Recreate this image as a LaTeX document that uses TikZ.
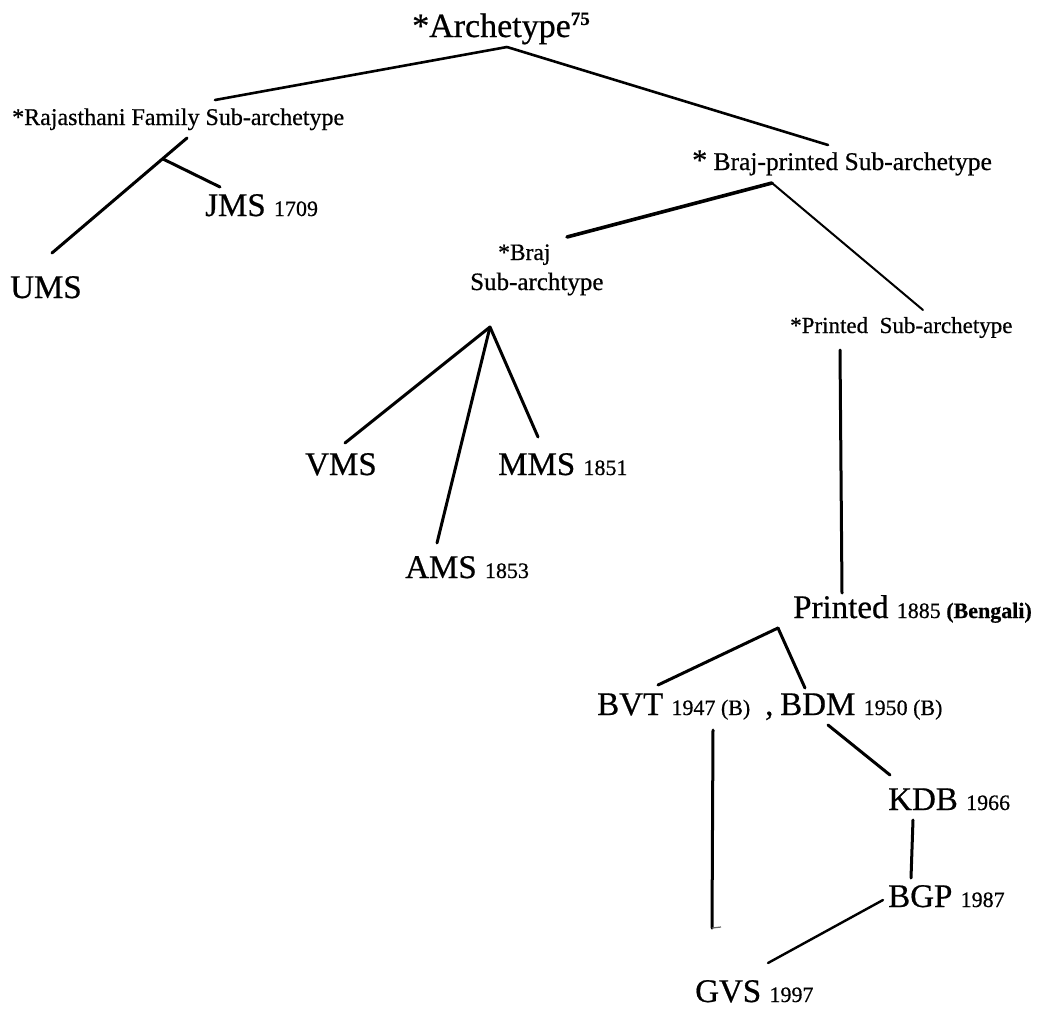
\documentclass[tikz,border=0pt]{standalone}
\usepackage{fontspec}
\setmainfont{Liberation Serif}[FakeBold=0.6]
\newcommand{\yrs}[1]{{\fontsize{22}{24}\selectfont #1}}
\tikzset{
  lbl/.style={font=\fontsize{33}{36}\selectfont, anchor=base west, inner sep=0pt},
  sml/.style={font=\fontsize{24}{26}\selectfont, anchor=base west, inner sep=0pt},
  edge/.style={line width=3pt, line cap=round},
  thinedge/.style={line width=2pt, line cap=round}
}
\begin{document}
\begin{tikzpicture}[x=1pt,y=-1pt]
\useasboundingbox (0,0) rectangle (1037,1009);
% nodes
\node[lbl,font=\fontsize{34}{36}\selectfont] (arch) at (412,37) {*Archetype\raisebox{12pt}{\fontsize{19}{19}\selectfont\bfseries 75}};
\node[sml] (raj) at (12,125) {*Rajasthani Family Sub-archetype};
\node[lbl] (jms) at (205,216) {JMS \yrs{1709}};
\node[lbl] (ums) at (10,298) {UMS};
\node[sml,font=\fontsize{25.5}{27}\selectfont] (brajp) at (692,170) {{\fontsize{30}{30}\selectfont *} Braj-printed Sub-archetype};
\node[sml,font=\fontsize{23.5}{26}\selectfont] (brajA) at (498,260) {*Braj};
\node[sml,font=\fontsize{25}{26}\selectfont] (brajB) at (470,290) {Sub-archtype};
\node[sml,font=\fontsize{23}{26}\selectfont] (prsub) at (790,333) {*Printed\ \ Sub-archetype};
\node[lbl] (vms) at (305,475) {VMS};
\node[lbl] (mms) at (498,475) {MMS \yrs{1851}};
\node[lbl] (ams) at (405,578) {AMS \yrs{1853}};
\node[lbl] (printed) at (793,618) {Printed \yrs{1885 \textbf{(Bengali)}}};
\node[lbl] (bvt) at (597,715) {BVT \yrs{1947 (B)}};
\node[lbl] (comma) at (765,715) {,};
\node[lbl] (bdm) at (780,715) {BDM \yrs{1950 (B)}};
\node[lbl] (kdb) at (888,810) {KDB \yrs{1966}};
\node[lbl] (bgp) at (888,907) {BGP \yrs{1987}};
\node[lbl] (gvs) at (695,1002) {GVS \yrs{1997}};
% connector end points
\coordinate (archB) at (507,47);
\coordinate (rajT) at (215,100);
\coordinate (brajpT) at (828,145);
\coordinate (rajB) at (187,138);
\coordinate (umsT) at (52,253);
\coordinate (rajJ) at (163,159);
\coordinate (jmsT) at (220,187);
\coordinate (brajpB) at (772,183);
\coordinate (brajT) at (567,237);
\coordinate (prsubT) at (923,310);
\coordinate (brajBB) at (490,327);
\coordinate (vmsT) at (345,443);
\coordinate (amsT) at (437,543);
\coordinate (mmsT) at (538,437);
\coordinate (prsubB) at (840,350);
\coordinate (printedT) at (842,593);
\coordinate (printedB) at (778,628);
\coordinate (bvtT) at (658,685);
\coordinate (bdmT) at (805,688);
\coordinate (bvtB) at (713,730);
\coordinate (bvtEnd) at (712,928);
\coordinate (bvtTick) at (721,927);
\coordinate (bdmB) at (828,725);
\coordinate (kdbT) at (890,775);
\coordinate (kdbB) at (913,820);
\coordinate (bgpT) at (911,878);
\coordinate (bgpL) at (883,900);
\coordinate (gvsT) at (768,963);
% connectors
\draw[edge,line width=2.6pt] (archB) -- (rajT);
\draw[edge,line width=2.6pt] (archB) -- (brajpT);
\draw[edge] (rajB) -- (umsT);
\draw[edge] (rajJ) -- (jmsT);
\draw[edge,line width=3.6pt] (brajpB) -- (brajT);
\draw[thinedge] (brajpB) -- (prsubT);
\draw[edge] (brajBB) -- (vmsT);
\draw[edge] (brajBB) -- (amsT);
\draw[edge] (brajBB) -- (mmsT);
\draw[edge] (prsubB) -- (printedT);
\draw[edge] (printedB) -- (bvtT);
\draw[edge] (printedB) -- (bdmT);
\draw[edge] (bvtB) -- (bvtEnd);
\draw[line width=1.2pt,black!60] (bvtEnd) -- (bvtTick);
\draw[edge] (bdmB) -- (kdbT);
\draw[edge] (kdbB) -- (bgpT);
\draw[edge,line width=2.4pt] (bgpL) -- (gvsT);
\end{tikzpicture}
\end{document}
